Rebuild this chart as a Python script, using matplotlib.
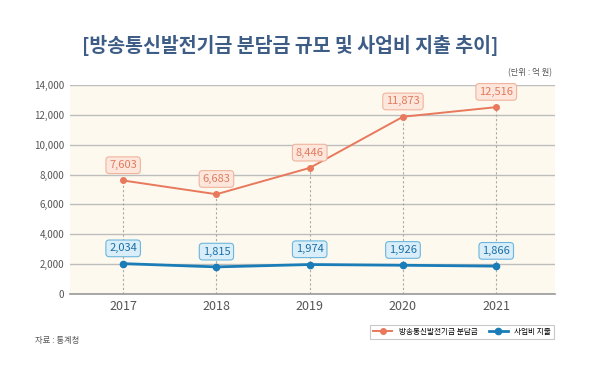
import matplotlib.pyplot as plt
import numpy as np

plt.rcParams['font.family'] = ['Noto Sans CJK KR', 'DejaVu Sans']

years = ['2017', '2018', '2019', '2020', '2021']
contrib = [7603, 6683, 8446, 11873, 12516]
spending = [2034, 1815, 1974, 1926, 1866]
yticks = [0, 2000, 4000, 6000, 8000, 10000, 12000, 14000]

orange = '#e8795c'
blue = '#1a7db8'

fig = plt.figure(figsize=(5.99, 3.79), dpi=100)
ax = fig.add_axes([70 / 599, 1 - 294 / 379, 485 / 599, 209 / 379])
ax.set_facecolor('#fdf9ee')

x = np.arange(len(years))
for i in x:
    ax.plot([i, i], [0, contrib[i]], ls=(0, (2, 2)), color='#aaaaaa', lw=0.8, zorder=1)

ax.plot(x, contrib, color=orange, lw=1.4, marker='o', ms=4, zorder=3,
        label='방송통신발전기금 분담금')
ax.plot(x, spending, color=blue, lw=2, marker='o', ms=4.5, zorder=3,
        label='사업비 지출')

for i in x:
    ax.annotate(f'{contrib[i]:,}', (i, contrib[i]), xytext=(0, 11), textcoords='offset points',
                ha='center', va='center', fontsize=8, color='#e07a5c',
                bbox=dict(boxstyle='round,pad=0.3', fc='#fde7dd', ec='#f0b49c', lw=0.8),
                zorder=4)
    ax.annotate(f'{spending[i]:,}', (i, spending[i]), xytext=(0, 11), textcoords='offset points',
                ha='center', va='center', fontsize=8, color='#1a6fa8',
                bbox=dict(boxstyle='round,pad=0.3', fc='#d9eef9', ec='#6cb6de', lw=0.8),
                zorder=4)

ax.set_xlim(-0.57, 4.63)
ax.set_ylim(0, 14000)
ax.set_yticks(yticks)
ax.set_yticklabels([f'{v:,}' for v in yticks], fontsize=7, color='#555555')
ax.set_xticks(x)
ax.set_xticklabels(years, fontsize=9, color='#555555')
ax.tick_params(length=0, pad=4)
ax.grid(axis='y', color='#bdbdbd', lw=1)
ax.set_axisbelow(True)
for s in ['top', 'right', 'left']:
    ax.spines[s].set_visible(False)
ax.spines['bottom'].set_color('#999999')
ax.spines['bottom'].set_linewidth(1.2)

fig.text(290 / 599, 1 - 45 / 379, '[방송통신발전기금 분담금 규모 및 사업비 지출 추이]',
         ha='center', va='center', fontsize=14, fontweight='bold', color='#3d5d86')
fig.text(552 / 599, 1 - 73 / 379, '(단위 : 억 원)', ha='right', va='center',
         fontsize=6, color='#555555')
fig.text(35 / 599, 1 - 340 / 379, '자료 : 통계청', ha='left', va='center',
         fontsize=6, color='#555555')

leg = fig.legend(loc='center', bbox_to_anchor=(462 / 599, 1 - 332 / 379), ncol=2,
                 fontsize=5.5, frameon=True, fancybox=False, edgecolor='#bbbbbb',
                 handlelength=2.5, columnspacing=1.5)
leg.get_frame().set_linewidth(0.8)

fig.savefig('out.png', dpi=100)
